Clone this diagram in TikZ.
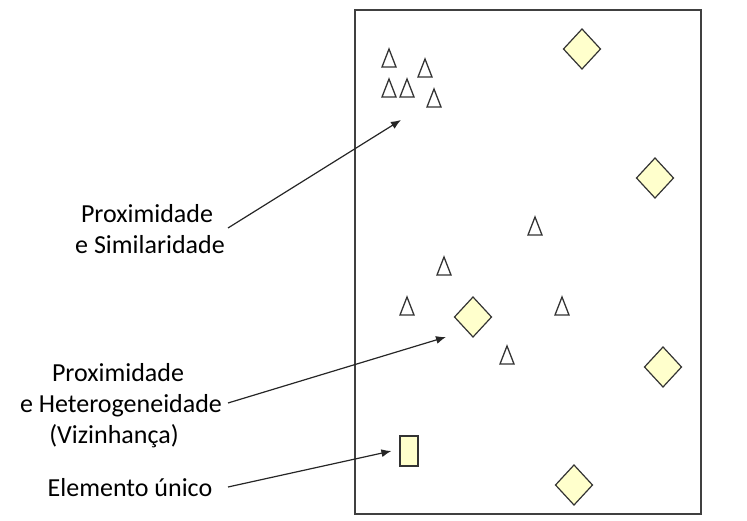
\documentclass[tikz,border=0pt]{standalone}
\usepackage{fontspec}
\setmainfont{Carlito}
\usetikzlibrary{arrows.meta}
\definecolor{fillY}{HTML}{FFFFCC}
\definecolor{edge}{HTML}{333333}
\tikzset{
  lbl/.style={font=\fontsize{26}{31}\selectfont, inner sep=0pt, anchor=base, text=black},
  tri/.style={draw=edge, fill=white, line width=1.3pt, line join=miter},
  dia/.style={draw=edge, fill=fillY, line width=1.2pt},
  conn/.style={draw=black!85, line width=1.2pt, -{Latex[length=10pt,width=8pt]}}
}
\begin{document}
\begin{tikzpicture}[x=1pt,y=-1pt]
\useasboundingbox (0,0) rectangle (747,521);
% frame
\draw[draw=black!75, line width=1.3pt] (355,10) rectangle (701,514);
% triangles
\foreach \x/\y in {389/58, 425/68, 389/88, 407/88, 434/98, 535/226, 444/266, 407/306, 562/306, 507/355}{
  \draw[tri] (\x-7,\y+9) -- (\x,\y-9) -- (\x+7,\y+9) -- cycle;
}
% diamonds
\foreach \x/\y in {582/49, 655/178, 473/317, 663/367, 574/485}{
  \draw[dia] (\x,\y-20) -- (\x+18.5,\y) -- (\x,\y+20) -- (\x-18.5,\y) -- cycle;
}
% single element
\node[dia, draw=edge, minimum width=18pt, minimum height=30pt, inner sep=0pt] (uni) at (409,451) {};
% labels
\node[lbl] (s1) at (147,223) {Proximidade};
\node[lbl] (s2) at (150,254) {e Similaridade};
\node[lbl] (h1) at (118,381) {Proximidade};
\node[lbl] (h2) at (121,412) {e Heterogeneidade};
\node[lbl] (h3) at (114,443) {(Vizinhança)};
\node[lbl] (e1) at (130,496) {Elemento único};
% connector ends
\coordinate (sa) at (228,228);
\coordinate (sb) at (401,120);
\coordinate (ha) at (228,403);
\coordinate (hb) at (446,337);
\coordinate (ea) at (228,487);
% connectors
\draw[conn] (sa) -- (sb);
\draw[conn] (ha) -- (hb);
\draw[conn] (ea) -- ([xshift=-8pt]uni.west);
\end{tikzpicture}
\end{document}
